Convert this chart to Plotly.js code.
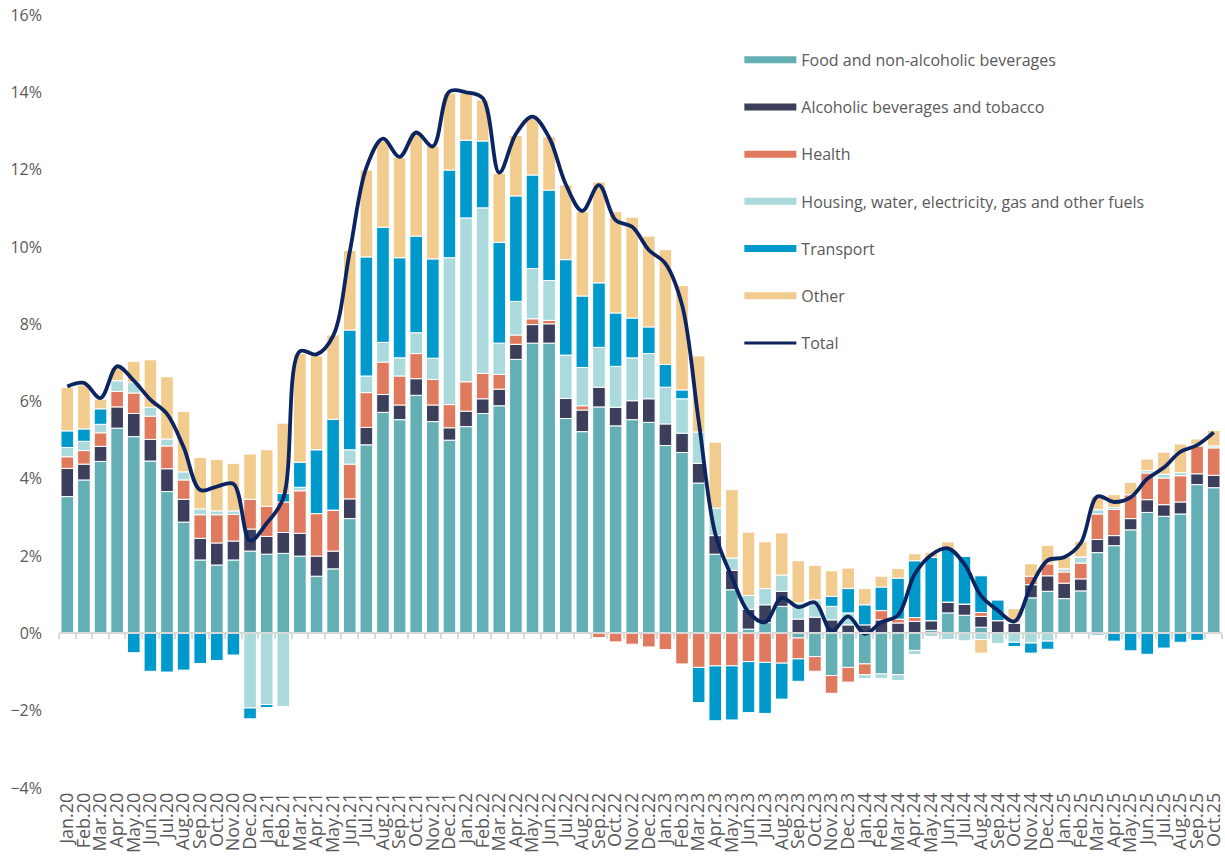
<!DOCTYPE html>
<html><head><meta charset="utf-8">
<script src="https://cdn.plot.ly/plotly-3.0.1.min.js"></script>
<style>html,body{margin:0;padding:0;background:#fff}#chart{width:1225px;height:865px}</style>
</head><body><div id="chart"></div>
<script>
const months = ["Jan.20","Feb.20","Mar.20","Apr.20","May.20","Jun.20","Jul.20","Aug.20","Sep.20","Oct.20","Nov.20","Dec.20",
"Jan.21","Feb.21","Mar.21","Apr.21","May.21","Jun.21","Jul.21","Aug.21","Sep.21","Oct.21","Nov.21","Dec.21",
"Jan.22","Feb.22","Mar.22","Apr.22","May.22","Jun.22","Jul.22","Aug.22","Sep.22","Oct.22","Nov.22","Dec.22",
"Jan.23","Feb.23","Mar.23","Apr.23","May.23","Jun.23","Jul.23","Aug.23","Sep.23","Oct.23","Nov.23","Dec.23",
"Jan.24","Feb.24","Mar.24","Apr.24","May.24","Jun.24","Jul.24","Aug.24","Sep.24","Oct.24","Nov.24","Dec.24",
"Jan.25","Feb.25","Mar.25","Apr.25","May.25","Jun.25","Jul.25","Aug.25","Sep.25","Oct.25"];

const food = [3.54,3.97,4.45,5.31,5.09,4.46,3.67,2.88,1.90,1.77,1.90,2.13,
2.05,2.07,2.00,1.48,1.67,2.97,4.88,5.72,5.53,6.16,5.48,5.00,
5.35,5.69,5.89,7.09,7.51,7.51,5.56,5.22,5.86,5.37,5.53,5.46,
4.86,4.68,3.89,2.05,1.13,0.11,0.28,0.70,-0.12,-0.60,-1.09,-0.88,
-0.79,-1.05,-1.07,-0.44,0.08,0.53,0.47,0.16,0,0,0.92,1.09,
0.90,1.10,2.09,2.27,2.68,3.13,3.03,3.09,3.85,3.77];

const alcohol = [0.73,0.41,0.39,0.55,0.60,0.56,0.59,0.59,0.56,0.57,0.49,0.57,
0.46,0.54,0.59,0.52,0.46,0.51,0.45,0.46,0.38,0.43,0.43,0.32,
0.40,0.38,0.43,0.39,0.48,0.50,0.52,0.56,0.51,0.48,0.49,0.61,
0.56,0.50,0.51,0.48,0.50,0.51,0.46,0.39,0.37,0.42,0.35,0.22,
0.22,0.35,0.27,0.31,0.25,0.28,0.29,0.28,0.33,0.27,0.34,0.40,
0.40,0.31,0.34,0.26,0.29,0.33,0.30,0.31,0.28,0.32];

const health = [0.30,0.35,0.35,0.40,0.53,0.60,0.59,0.50,0.61,0.73,0.69,0.77,
0.78,0.79,1.10,1.10,1.06,0.90,0.90,0.84,0.75,0.65,0.66,0.60,
0.76,0.66,0.38,0.24,0.15,0.09,0,0.11,-0.11,-0.22,-0.28,-0.35,
-0.42,-0.79,-0.88,-0.84,-0.84,-0.73,-0.75,-0.77,-0.54,-0.38,-0.46,-0.38,
-0.28,0.24,0.10,0.10,0,0,0,0.10,0,0,0.22,0.31,
0.29,0.41,0.66,0.68,0.62,0.69,0.69,0.68,0.72,0.71];

const housing = [0.24,0.24,0.22,0.28,0.27,0.23,0.18,0.21,0.15,0.10,0.09,-1.93,
-1.84,-1.89,0.09,0,0,0.37,0.43,0.51,0.47,0.54,0.55,3.80,
4.24,4.28,0.81,0.87,1.30,1.03,1.12,0.99,1.03,1.06,1.11,1.17,
0.95,0.89,0.81,0.71,0.32,0.36,0.42,0.42,0.42,0.45,0.35,0.31,
-0.10,-0.12,-0.15,-0.11,-0.08,-0.16,-0.19,-0.16,-0.26,-0.23,-0.25,-0.20,
0.08,0.16,0.11,0.05,0,0.06,0.10,0.08,0.03,0.05];

const transport = [0.43,0.32,0.40,0,-0.50,-0.98,-1.00,-0.95,-0.78,-0.70,-0.56,-0.28,
-0.08,0.22,0.65,1.65,2.35,3.10,3.08,2.98,2.59,2.50,2.57,2.27,
2.01,1.73,2.61,2.73,2.42,2.34,2.47,1.85,1.67,1.38,1.03,0.69,
0.59,0.23,-0.91,-1.42,-1.40,-1.32,-1.32,-0.93,-0.58,0,0.26,0.63,
0.52,0.61,1.06,1.47,1.64,1.38,1.23,0.95,0.54,-0.11,-0.26,-0.21,
0,0,-0.04,-0.20,-0.45,-0.54,-0.38,-0.23,-0.18,-0.03];

const other = [1.12,1.14,0.25,0.33,0.55,1.23,1.61,1.56,1.33,1.33,1.23,1.17,
1.46,1.82,2.81,2.43,2.18,2.06,2.25,2.23,2.59,2.68,2.92,1.99,
1.22,1.06,1.78,1.56,1.48,1.38,1.93,2.18,2.61,2.62,2.61,2.35,
2.97,2.70,1.97,1.71,1.77,1.64,1.21,1.09,1.09,0.89,0.66,0.53,
0.42,0.28,0.25,0.18,0.13,0.18,0,-0.35,0,0.37,0.32,0.48,
0.31,0.40,0.34,0.33,0.32,0.30,0.57,0.74,0.15,0.40];

const total = [6.39,6.48,6.09,6.91,6.54,6.05,5.68,4.82,3.71,3.80,3.87,2.40,
2.85,3.50,7.30,7.22,7.70,9.87,12.05,12.80,12.33,12.96,12.60,14.02,
14.00,13.85,11.92,12.92,13.37,12.83,11.62,10.93,11.60,10.69,10.52,9.92,
9.57,8.50,5.50,2.58,1.46,0.55,0.29,0.92,0.68,0.80,0.06,0.44,
-0.01,0.29,0.47,1.53,2.03,2.20,1.79,0.97,0.60,0.31,1.22,1.89,
1.97,2.34,3.54,3.40,3.52,4.00,4.29,4.70,4.87,5.20];

const seriesNames = ["Food and non-alcoholic beverages","Alcoholic beverages and tobacco","Health",
"Housing, water, electricity, gas and other fuels","Transport","Other"];
const seriesColors = ["#64AFB4","#3C3F5B","#E07A5F","#AADADB","#0099CB","#F2CC8F"];
const seriesData = [food, alcohol, health, housing, transport, other];
const totalName = "Total";
const totalColor = "#0C2460";

const traces = [];
seriesData.forEach((vals, i) => {
  traces.push({
    type: "bar", x: months, y: vals, name: seriesNames[i],
    marker: {color: seriesColors[i], line: {color: "#ffffff", width: 1}},
    showlegend: false, hoverinfo: "x+y+name"
  });
});
traces.push({
  type: "scatter", mode: "lines", x: months, y: total, name: totalName,
  line: {color: totalColor, width: 3.8, shape: "spline", smoothing: 1},
  showlegend: false
});
// legend entries
seriesNames.forEach((n, i) => {
  traces.push({type: "scatter", mode: "lines", x: [months[0]], y: [null], name: n,
    line: {color: seriesColors[i], width: 7}, legendgroup: "g" + i, showlegend: true, hoverinfo: "skip"});
});
traces.push({type: "scatter", mode: "lines", x: [months[0]], y: [null], name: totalName,
  line: {color: totalColor, width: 3}, legendgroup: "g6", showlegend: true, hoverinfo: "skip"});
// zero axis helper
traces.push({type: "scatter", mode: "lines", x: months, y: months.map(() => null), xaxis: "x2",
  showlegend: false, hoverinfo: "skip"});

const font = "Open Sans, Liberation Sans, sans-serif";
const layout = {
  width: 1225, height: 865,
  margin: {l: 59, r: 3, t: 15, b: 77},
  paper_bgcolor: "#ffffff", plot_bgcolor: "#ffffff",
  barmode: "relative", bargap: 0.24,
  font: {family: font, color: "#595959"},
  xaxis: {type: "category", categoryarray: months, range: [-0.5, 69.5],
    tickmode: "array", tickvals: months, ticktext: months,
    tickangle: -90, ticks: "", showgrid: false, zeroline: false, showline: false,
    tickfont: {family: font, size: 18, color: "#595959"}},
  xaxis2: {type: "category", categoryarray: months, range: [-0.5, 69.5], overlaying: "x",
    anchor: "free", position: 0.2, side: "bottom",
    showticklabels: false, ticks: "outside", ticklen: 5, tickwidth: 2, tickcolor: "#D9D9D9",
    tickson: "boundaries", showline: true, linecolor: "#D9D9D9", linewidth: 2, showgrid: false, zeroline: false},
  yaxis: {range: [-4, 16], dtick: 2, tick0: 0, ticksuffix: "%", showgrid: false, zeroline: false,
    ticks: "", showline: false, ticklabelstandoff: 16,
    tickfont: {family: font, size: 16, color: "#595959"}},
  legend: {x: 0.585, y: 0.964, xanchor: "left", yanchor: "top", bgcolor: "rgba(0,0,0,0)",
    font: {family: font, size: 16, color: "#595959"}, traceorder: "grouped", tracegroupgap: 23.4,
    itemwidth: 52}
};
Plotly.newPlot("chart", traces, layout, {displayModeBar: false, staticPlot: true});
</script></body></html>
